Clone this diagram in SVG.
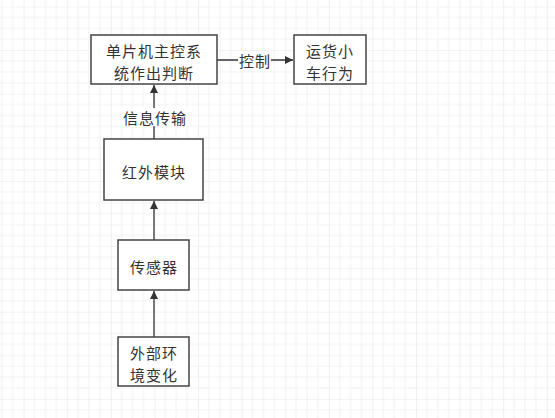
<svg xmlns="http://www.w3.org/2000/svg" width="555" height="418" viewBox="0 0 555 418">
<defs>
<pattern id="grid" patternUnits="userSpaceOnUse" x="23.6" y="6.5" width="43.6" height="43.6">
<path d="M10.9 0V43.6M21.8 0V43.6M32.7 0V43.6M0 10.9H43.6M0 21.8H43.6M0 32.7H43.6" stroke="#f1f1f1" stroke-width="1" fill="none"/>
<path d="M0 0V43.6M0 0H43.6" stroke="#e6e6e6" stroke-width="1.2" fill="none"/>
</pattern>
<marker id="arr" viewBox="0 0 10 10" refX="10" refY="5" markerWidth="8" markerHeight="8" markerUnits="userSpaceOnUse" orient="auto">
<path d="M0 0L10 5L0 10Z" fill="#333"/>
</marker>
</defs>
<style>
.box{fill:#fff;stroke:#444;stroke-width:1.5}
.t{font-family:"Noto Sans CJK SC","Noto Sans",sans-serif;font-size:15px;fill:#333;text-anchor:middle;dominant-baseline:central;letter-spacing:1px}
.c{stroke:#333;stroke-width:1.3;fill:none}
.lbl{fill:#fff}
</style>
<rect width="555" height="418" fill="#fff"/>
<rect width="555" height="418" fill="url(#grid)"/>
<g id="connectors">
<line class="c" x1="217" y1="60" x2="293" y2="60" marker-end="url(#arr)"/>
<rect class="lbl" x="238" y="51" width="33" height="18"/>
<text class="t" x="255" y="60">控制</text>
<line class="c" x1="154" y1="139" x2="154" y2="85" marker-end="url(#arr)"/>
<rect class="lbl" x="121" y="108" width="67" height="18"/>
<text class="t" x="155" y="117">信息传输</text>
<line class="c" x1="154" y1="240" x2="154" y2="201" marker-end="url(#arr)"/>
<line class="c" x1="154" y1="337" x2="154" y2="291" marker-end="url(#arr)"/>
</g>
<g id="node-mcu">
<rect class="box" x="91" y="35" width="126" height="49"/>
<text class="t" x="154" y="50">单片机主控系</text>
<text class="t" x="154" y="72">统作出判断</text>
</g>
<g id="node-car">
<rect class="box" x="294" y="35" width="72" height="49"/>
<text class="t" x="330" y="50">运货小</text>
<text class="t" x="330" y="72">车行为</text>
</g>
<g id="node-ir">
<rect class="box" x="104" y="139" width="99" height="61"/>
<text class="t" x="154" y="171">红外模块</text>
</g>
<g id="node-sensor">
<rect class="box" x="118" y="240" width="71" height="50"/>
<text class="t" x="154" y="266">传感器</text>
</g>
<g id="node-env">
<rect class="box" x="118" y="337" width="71" height="49"/>
<text class="t" x="154" y="352">外部环</text>
<text class="t" x="154" y="374">境变化</text>
</g>
</svg>
